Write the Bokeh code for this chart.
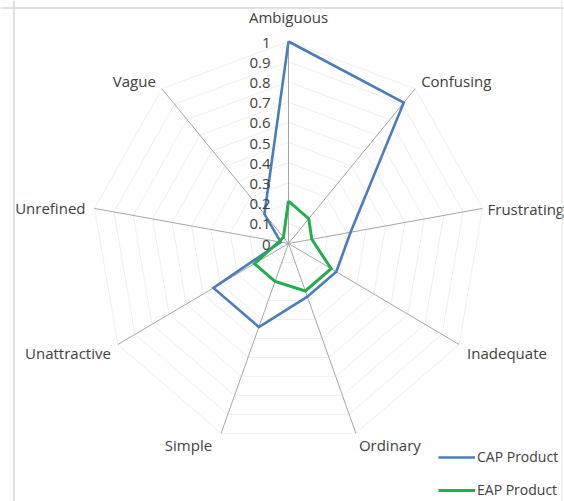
import numpy as np
from bokeh.plotting import figure
from bokeh.models import Range1d, Legend, LegendItem, ColumnDataSource, Span
from bokeh.core.properties import value
from bokeh.embed import file_html
from bokeh.resources import INLINE

categories = ["Ambiguous", "Confusing", "Frustrating", "Inadequate", "Ordinary",
              "Simple", "Unattractive", "Unrefined", "Vague"]
cap_product = [1.0, 0.91, 0.32, 0.28, 0.28, 0.44, 0.44, 0.04, 0.19]
eap_product = [0.21, 0.16, 0.12, 0.25, 0.25, 0.20, 0.20, 0.05, 0.04]
ring_levels = [0.1, 0.2, 0.3, 0.4, 0.5, 0.6, 0.7, 0.8, 0.9, 1.0]
tick_labels = ["0", "0.1", "0.2", "0.3", "0.4", "0.5", "0.6", "0.7", "0.8", "0.9", "1"]
tick_values = [0, 0.1, 0.2, 0.3, 0.4, 0.5, 0.6, 0.7, 0.8, 0.9, 1.0]

FONT = "Open Sans"
TXT = "#404040"
W, H = 564, 501
kx, ky = 197.0, 202.0        # px per unit
cxp, cyp = 288.0, 243.0      # centre in canvas px

n = len(categories)
ang = np.array([i * 2 * np.pi / n for i in range(n)])   # clockwise from top
sx, sy = np.sin(ang), np.cos(ang)

p = figure(width=W, height=H, output_backend="svg", toolbar_location=None,
           x_range=Range1d(-cxp / kx, (W - cxp) / kx),
           y_range=Range1d(-(H - cyp) / ky, cyp / ky),
           min_border=0)
p.axis.visible = False
p.grid.visible = False
p.outline_line_color = None
p.background_fill_color = "white"

# chart-area border (left, top, right)
p.add_layout(Span(location=-cxp / kx + 13.5 / kx, dimension="height",
                  line_color="#d9d9d9", line_width=1.5))
p.add_layout(Span(location=cyp / ky - 7.5 / ky, dimension="width",
                  line_color="#d9d9d9", line_width=1.5))
p.add_layout(Span(location=(561.5 - cxp) / kx, dimension="height",
                  line_color="#e6e6e6", line_width=1))

# rings
rx = [list(np.append(sx * r, sx[0] * r)) for r in ring_levels]
ry = [list(np.append(sy * r, sy[0] * r)) for r in ring_levels]
p.multi_line(rx, ry, line_color="#eeeeee", line_width=1)

# spokes
p.segment(x0=[0] * n, y0=[0] * n, x1=list(sx), y1=list(sy),
          line_color="#a6a6a6", line_width=1)

# series
def closed(vals):
    v = np.array(vals)
    xs = np.append(sx * v, sx[0] * v[0])
    ys = np.append(sy * v, sy[0] * v[0])
    return xs, ys

bx, by = closed(cap_product)
gx, gy = closed(eap_product)
r_cap = p.line(bx, by, line_color="#4a7ebb", line_width=2.6, line_join="miter")
r_eap = p.line(gx, gy, line_color="#22ad4e", line_width=3, line_join="miter")

# category labels
x_off = [0, 6, 5, 8, 3, -9, -7, -9, -6]
y_off = [-15, -8, 1, 8, 12, 12, 8, 0, -8]
align = ["center", "left", "left", "left", "left", "right", "right", "right", "right"]
base = ["bottom"] + ["middle"] * 8
lab = ColumnDataSource(dict(x=list(sx), y=list(sy), t=categories,
                            xo=x_off, yo=y_off, al=align, bl=base))
p.text(x="x", y="y", text="t", x_offset="xo", y_offset="yo",
       text_align="al", text_baseline="bl", source=lab,
       text_font=value(FONT), text_font_size="15px", text_color=TXT)

# radial tick labels
p.text(x=[0] * len(tick_values), y=tick_values, text=tick_labels,
       x_offset=-18, y_offset=1, text_align="right", text_baseline="middle",
       text_font=value(FONT), text_font_size="15px", text_color=TXT)

legend = Legend(items=[LegendItem(label="CAP Product", renderers=[r_cap]),
                       LegendItem(label="EAP Product", renderers=[r_eap])],
                location=(438, 2), orientation="vertical",
                glyph_width=37, glyph_height=18, label_height=18,
                label_standoff=2, spacing=14, padding=0, margin=0,
                border_line_color=None, background_fill_alpha=0,
                label_text_font=FONT, label_text_font_size="14px",
                label_text_color=TXT)
p.add_layout(legend)

open("out.html", "w").write(file_html(p, INLINE))
